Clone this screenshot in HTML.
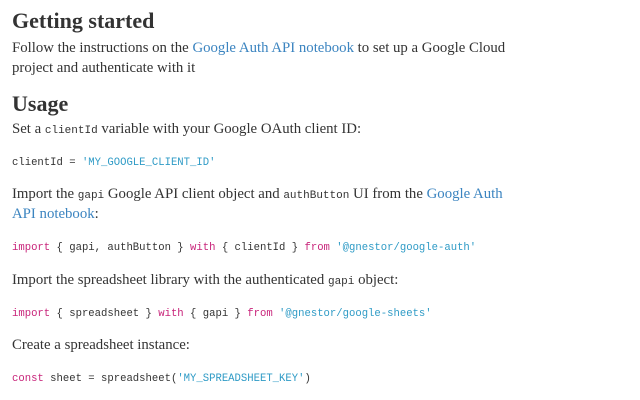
<!DOCTYPE html>
<html><head><meta charset="utf-8"><style>
body{margin:0;width:640px;height:400px;background:#fff;position:relative;overflow:hidden;color:#2a2a2a}
.l{position:absolute;left:12px;white-space:nowrap}
.h{font:bold 22px "Liberation Serif",serif;color:#333}
.t{font:14.8px "Liberation Serif",serif;color:#333}
.c{font:10.6px "Liberation Mono",monospace;color:#333}
.t code{font:11px "Liberation Mono",monospace}
a{color:#3b84c0;text-decoration:none}
.k{color:#c8247a}.s{color:#2f9bc6}
</style></head><body>
<div class="l h" style="top:8px">Getting started</div>
<div class="l t" style="top:40px">Follow the instructions on the <a>Google Auth API notebook</a> to set up a Google Cloud</div>
<div class="l t" style="top:60px">project and authenticate with it</div>
<div class="l h" style="top:91px">Usage</div>
<div class="l t" style="top:121px">Set a <code>clientId</code> variable with your Google OAuth client ID:</div>
<div class="l c" style="top:157px">clientId = <span class="s">'MY_GOOGLE_CLIENT_ID'</span></div>
<div class="l t" style="top:186px">Import the <code>gapi</code> Google API client object and <code>authButton</code> UI from the <a>Google Auth</a></div>
<div class="l t" style="top:206px"><a>API notebook</a>:</div>
<div class="l c" style="top:242px"><span class="k">import</span> { gapi, authButton } <span class="k">with</span> { clientId } <span class="k">from</span> <span class="s">'@gnestor/google-auth'</span></div>
<div class="l t" style="top:272px">Import the spreadsheet library with the authenticated <code>gapi</code> object:</div>
<div class="l c" style="top:308px"><span class="k">import</span> { spreadsheet } <span class="k">with</span> { gapi } <span class="k">from</span> <span class="s">'@gnestor/google-sheets'</span></div>
<div class="l t" style="top:337px">Create a spreadsheet instance:</div>
<div class="l c" style="top:373px"><span class="k">const</span> sheet = spreadsheet(<span class="s">'MY_SPREADSHEET_KEY'</span>)</div>
</body></html>
